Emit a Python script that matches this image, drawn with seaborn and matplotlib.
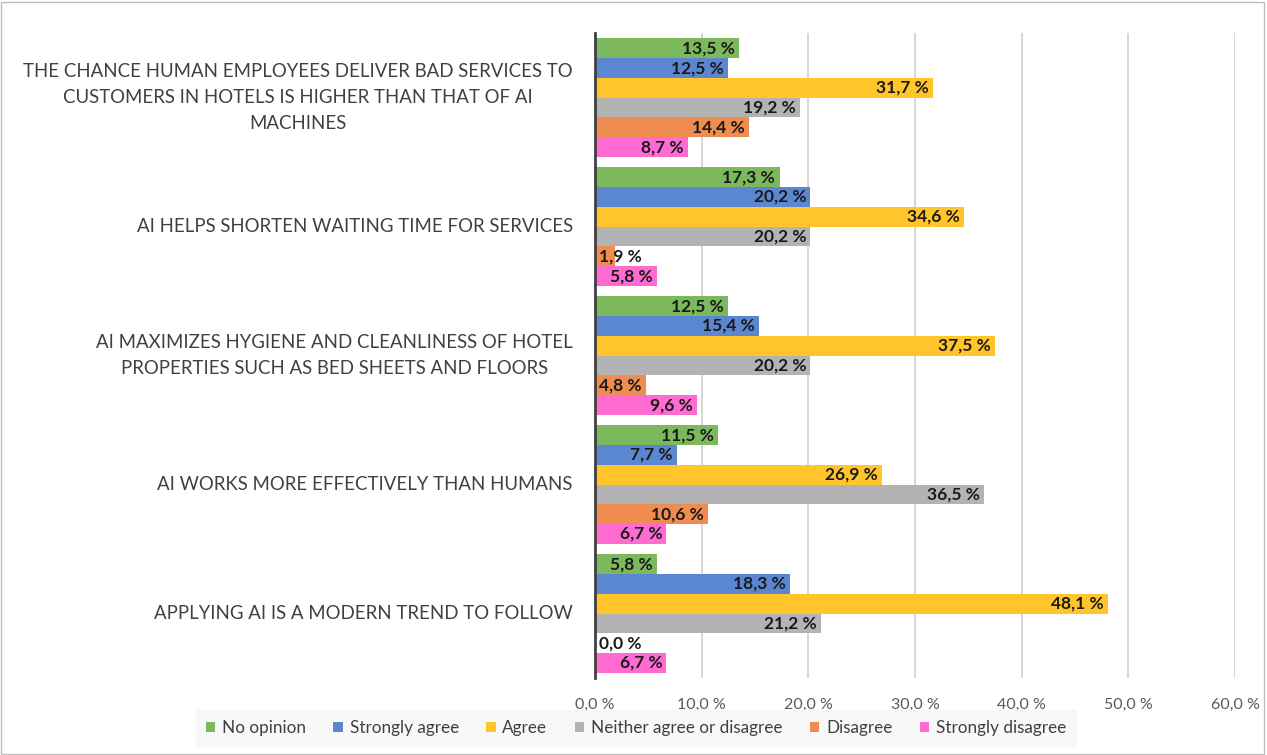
import matplotlib
matplotlib.use("Agg")
import matplotlib.pyplot as plt
import seaborn as sns
import pandas as pd
from matplotlib.patches import Rectangle

categories = [
    "THE CHANCE HUMAN EMPLOYEES DELIVER BAD SERVICES TO\nCUSTOMERS IN HOTELS IS HIGHER THAN THAT OF AI\nMACHINES",
    "AI HELPS SHORTEN WAITING TIME FOR SERVICES",
    "AI MAXIMIZES HYGIENE AND CLEANLINESS OF HOTEL\nPROPERTIES SUCH AS BED SHEETS AND FLOORS",
    "AI WORKS MORE EFFECTIVELY THAN HUMANS",
    "APPLYING AI IS A MODERN TREND TO FOLLOW",
]
series = ["No opinion", "Strongly agree", "Agree", "Neither agree or disagree",
          "Disagree", "Strongly disagree"]
no_opinion = [13.5, 17.3, 12.5, 11.5, 5.8]
strongly_agree = [12.5, 20.2, 15.4, 7.7, 18.3]
agree = [31.7, 34.6, 37.5, 26.9, 48.1]
neither = [19.2, 20.2, 20.2, 36.5, 21.2]
disagree = [14.4, 1.9, 4.8, 10.6, 0.0]
strongly_disagree = [8.7, 5.8, 9.6, 6.7, 6.7]
xticks = [0, 10, 20, 30, 40, 50, 60]
colors = ["#7cb85c", "#5b86d0", "#ffc52a", "#b3b3b3", "#ef8c50", "#ff6bd0"]

values = [no_opinion, strongly_agree, agree, neither, disagree, strongly_disagree]
rows = []
for s, vals in zip(series, values):
    for c, v in zip(categories, vals):
        rows.append({"category": c, "series": s, "value": v})
df = pd.DataFrame(rows)

sns.set_theme(style="white")
plt.rcParams["font.family"] = ["Lato", "DejaVu Sans"]

fig = plt.figure(figsize=(12.67, 7.55), dpi=100)
ax = fig.add_axes([0.4696, 0.102, 0.5051, 0.854])

sns.barplot(data=df, y="category", x="value", hue="series", order=categories,
            hue_order=series, palette=colors, orient="h", width=0.92,
            dodge=True, ax=ax, legend=True, saturation=1, linewidth=0)

ax.set_xlim(0, 60)
ax.set_xticks(xticks)
ax.set_xticklabels([f"{t:.1f} %".replace(".", ",") for t in xticks],
                   fontsize=11.5, color="#595959")
ax.set_xlabel("")
ax.set_ylabel("")
ax.tick_params(axis="y", labelsize=13.4, colors="#404040", length=0, pad=16)
ax.tick_params(axis="x", length=0, pad=14)
for lab in ax.get_yticklabels():
    lab.set_horizontalalignment("right")
    lab.set_verticalalignment("center")
    lab.set_multialignment("center")
    lab.set_linespacing(1.65)
ax.grid(axis="x", color="#d0d0d0", linewidth=1.2)
ax.set_axisbelow(True)
for sp in ["top", "right", "bottom"]:
    ax.spines[sp].set_visible(False)
ax.spines["left"].set_color("#404040")
ax.spines["left"].set_linewidth(2)

for cont in ax.containers:
    for bar in cont:
        v = bar.get_width()
        yc = bar.get_y() + bar.get_height() / 2
        txt = f"{v:.1f} %".replace(".", ",")
        if v < 5:
            ax.text(0.35, yc, txt, ha="left", va="center", fontsize=12.5,
                    fontweight="bold", color="#1a1a1a")
        else:
            ax.text(v - 0.4, yc, txt, ha="right", va="center", fontsize=12.5,
                    fontweight="bold", color="#1a1a1a")

handles, labels = ax.get_legend_handles_labels()
ax.get_legend().remove()
leg = fig.legend(handles, labels, loc="center", bbox_to_anchor=(0.502, 0.036),
                 ncol=6, frameon=True, fontsize=12.3, handlelength=0.55,
                 handleheight=0.55, handletextpad=0.4, columnspacing=1.6,
                 borderpad=0.6, fancybox=False)
leg.get_frame().set_facecolor("#f7f7f7")
leg.get_frame().set_edgecolor("#f7f7f7")
for t in leg.get_texts():
    t.set_color("#404040")

fig.patches.append(Rectangle((0.001, 0.001), 0.997, 0.997, transform=fig.transFigure,
                             fill=False, edgecolor="#bfbfbf", linewidth=1))

fig.savefig("out.png", dpi=100)
